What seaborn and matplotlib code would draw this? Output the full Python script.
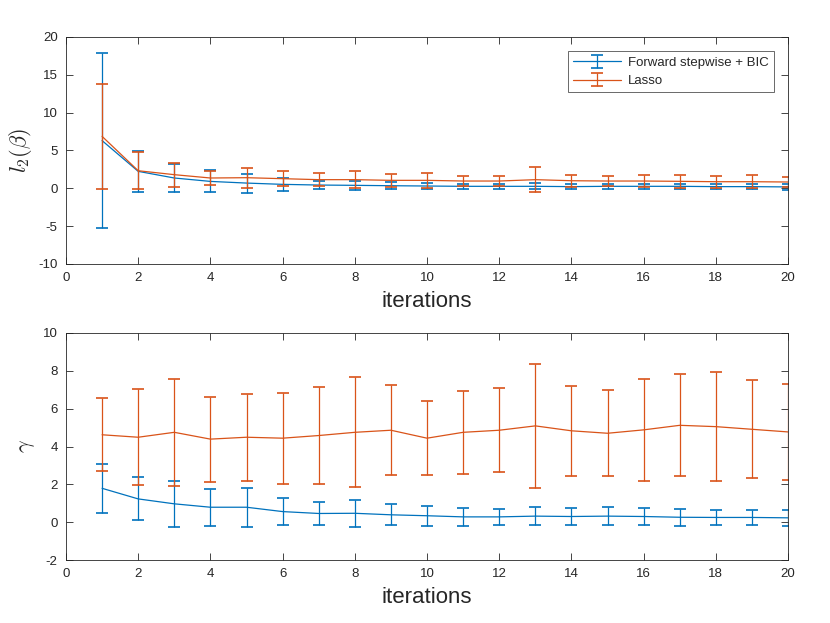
import numpy as np
import pandas as pd
import seaborn as sns
import matplotlib
matplotlib.use("Agg")
import matplotlib.pyplot as plt

# datos
iterations = list(range(1, 21))

top_fs_mean = [6.3, 2.24, 1.36, 0.91, 0.69, 0.52, 0.43, 0.39, 0.34, 0.30,
               0.26, 0.26, 0.26, 0.22, 0.26, 0.26, 0.26, 0.22, 0.22, 0.18]
top_fs_err = [11.6, 2.7, 1.9, 1.45, 1.25, 0.82, 0.58, 0.63, 0.43, 0.40,
              0.31, 0.32, 0.40, 0.33, 0.32, 0.35, 0.35, 0.30, 0.30, 0.34]
top_lasso_mean = [6.86, 2.32, 1.8, 1.36, 1.4, 1.27, 1.14, 1.14, 1.05, 1.05,
                  0.96, 0.96, 1.14, 1.0, 0.96, 0.96, 0.92, 0.87, 0.87, 0.83]
top_lasso_err = [6.9, 2.45, 1.6, 0.97, 1.3, 1.0, 0.87, 1.1, 0.9, 0.95,
                 0.7, 0.7, 1.67, 0.8, 0.7, 0.85, 0.87, 0.8, 0.84, 0.66]

bottom_fs_mean = [1.79, 1.23, 0.97, 0.79, 0.79, 0.56, 0.46, 0.47, 0.39, 0.34,
                  0.28, 0.28, 0.32, 0.30, 0.32, 0.30, 0.26, 0.25, 0.25, 0.23]
bottom_fs_err = [1.28, 1.14, 1.23, 0.99, 1.03, 0.73, 0.63, 0.7, 0.56, 0.52,
                 0.46, 0.44, 0.47, 0.45, 0.47, 0.46, 0.44, 0.42, 0.42, 0.44]
bottom_lasso_mean = [4.62, 4.49, 4.75, 4.39, 4.49, 4.44, 4.58, 4.75, 4.86, 4.44,
                     4.75, 4.86, 5.09, 4.83, 4.7, 4.88, 5.12, 5.05, 4.91, 4.77]
bottom_lasso_err = [1.94, 2.55, 2.84, 2.25, 2.29, 2.4, 2.56, 2.9, 2.38, 1.96,
                    2.19, 2.21, 3.27, 2.38, 2.27, 2.7, 2.7, 2.87, 2.6, 2.53]

labels = ["Forward stepwise + BIC", "Lasso"]
colors = ["#0072BD", "#D95319"]

sns.set_style("ticks")
plt.rcParams["font.family"] = ["Liberation Sans", "DejaVu Sans"]
plt.rcParams["mathtext.fontset"] = "cm"
plt.rcParams["axes.unicode_minus"] = False

fig = plt.figure(figsize=(8.3, 6.23), dpi=100)
ax1 = fig.add_axes([0.0795, 0.5763, 0.870, 0.3644])
ax2 = fig.add_axes([0.0795, 0.1011, 0.870, 0.3644])

panels = [
    (ax1, [top_fs_mean, top_lasso_mean], [top_fs_err, top_lasso_err],
     r"$l_2(\beta)$", (-10, 20), np.arange(-10, 21, 5)),
    (ax2, [bottom_fs_mean, bottom_lasso_mean], [bottom_fs_err, bottom_lasso_err],
     r"$\gamma$", (-2, 10), np.arange(-2, 11, 2)),
]

for ax, means, errs, ylab, ylim, yticks in panels:
    handles = []
    for mean, err, col, lab in zip(means, errs, colors, labels):
        df = pd.DataFrame({"iteration": iterations, "value": mean})
        sns.lineplot(data=df, x="iteration", y="value", color=col,
                     linewidth=0.9, ax=ax, legend=False)
        line = ax.get_lines()[-1]
        eb = ax.errorbar(iterations, mean, yerr=err, fmt="none", ecolor=col,
                         elinewidth=0.9, capsize=4, capthick=1.2)
        handles.append((line, eb))
    ax.set_xlim(0, 20)
    ax.set_ylim(*ylim)
    ax.set_xticks(np.arange(0, 21, 2))
    ax.set_yticks(yticks)
    ax.set_xlabel("iterations", fontsize=16, color="#262626", labelpad=5)
    ax.set_ylabel(ylab, fontsize=16, color="#262626")
    ax.tick_params(direction="in", top=True, right=True, length=5,
                   width=0.6, labelsize=9.5, colors="#262626", pad=6)
    for sp in ax.spines.values():
        sp.set_visible(True)
        sp.set_linewidth(0.6)
        sp.set_color("#262626")
    if ax is ax1:
        leg = ax.legend(handles, labels, loc="upper right", fontsize=9.5,
                        frameon=True, fancybox=False, edgecolor="#262626",
                        borderaxespad=1.1, handlelength=3.6,
                        borderpad=0.4, labelspacing=0.45, handletextpad=0.5)
        leg.get_frame().set_linewidth(0.6)

ax1.yaxis.set_label_coords(-0.044, 0.5)
ax2.yaxis.set_label_coords(-0.04, 0.5)

fig.savefig("out.png", dpi=100)
